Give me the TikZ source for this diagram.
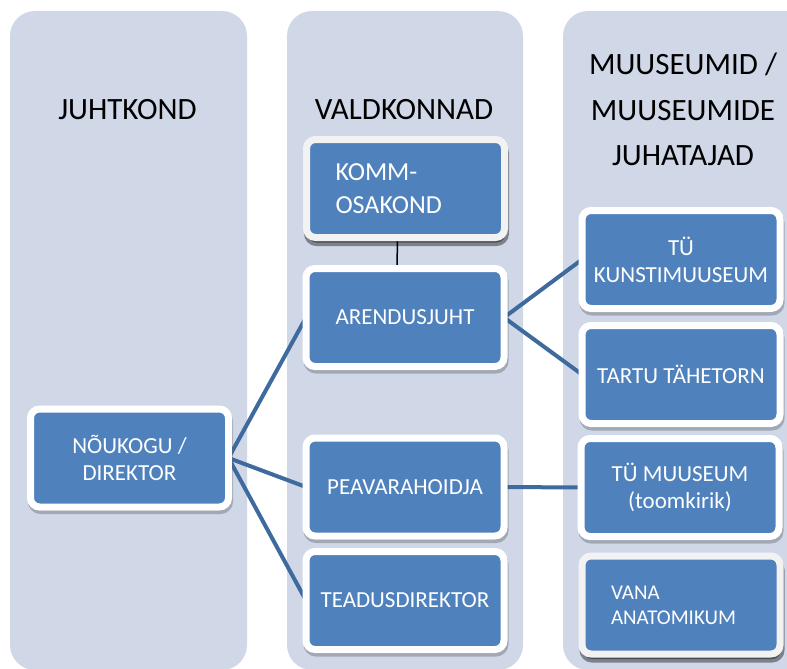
\documentclass[tikz,border=0pt]{standalone}
\usepackage{fontspec}
\setmainfont{Carlito}
\usetikzlibrary{shadows}
\definecolor{lane}{HTML}{D0D8E8}
\definecolor{boxblue}{HTML}{4F81BD}
\definecolor{conn}{HTML}{3F6A9E}
\definecolor{softborder}{HTML}{F2F2F2}
\pgfdeclarelayer{lanes}
\pgfdeclarelayer{links}
\pgfsetlayers{lanes,links,main}
\tikzset{
  basebox/.style={line width=7pt, fill=boxblue, rounded corners=9pt,
    minimum width=198pt, minimum height=98pt, text=white, align=center,
    font=\fontsize{23}{27}\selectfont, outer sep=0pt, inner sep=0pt},
  orgbox/.style={basebox, draw=white,
    drop shadow={shadow xshift=1pt, shadow yshift=-3.5pt, fill=black, draw=black, line width=7pt, opacity=0.22}},
  softbox/.style={basebox, draw=softborder,
    drop shadow={shadow xshift=1pt, shadow yshift=-5pt, fill=black, draw=black, line width=7pt, opacity=0.4}},
  link/.style={draw=conn, line width=4pt},
  header/.style={font=\fontsize{31}{45.5}\selectfont, align=center, text=black},
  lanebg/.style={fill=lane, rounded corners=25pt},
}
\begin{document}
\begin{tikzpicture}[x=1pt,y=-1pt]
\useasboundingbox (0,0) rectangle (787,669);
\clip (0,0) rectangle (787,669);
\begin{pgfonlayer}{lanes}
  \fill[white] (0,0) rectangle (787,669);
  \fill[lanebg] (10,11) rectangle (247,670);
  \fill[lanebg] (287,11) rectangle (523,670);
  \fill[lanebg] (563,11) rectangle (815,670);
\end{pgfonlayer}

\node[header] (h1) at (127.5,110) {JUHTKOND};
\node[header] (h2) at (404,110) {VALDKONNAD};
\node[header] (h3) at (683,109.5) {MUUSEUMID /\\MUUSEUMIDE\\JUHATAJAD};

\node[orgbox] (nou) at (129.5,458) {NÕUKOGU /\\DIREKTOR};
\node[softbox, text width=140pt, align=left, font=\fontsize{26}{33}\selectfont] (komm) at (405.5,188.5) {KOMM-\\OSAKOND};
\node[orgbox] (arend) at (405,317.5) {ARENDUSJUHT};
\node[orgbox] (peav) at (405,487) {PEAVARAHOIDJA};
\node[orgbox] (teadus) at (405,600.5) {TEADUSDIREKTOR};
\node[orgbox] (kunst) at (681,259.5) {TÜ\\KUNSTIMUUSEUM};
\node[orgbox] (taht) at (681,374.5) {TARTU TÄHETORN};
\node[orgbox] (tymuus) at (680,487.5) {TÜ MUUSEUM\\(toomkirik)};
\node[softbox, text width=140pt, align=left, font=\fontsize{21}{25}\selectfont] (vana) at (681,605) {VANA\\ANATOMIKUM};

\begin{pgfonlayer}{links}
  \draw[link] (nou.east) -- (arend.west);
  \draw[link] (nou.east) -- (peav.west);
  \draw[link] (nou.east) -- (teadus.west);
  \draw[link] (arend.east) -- (kunst.west);
  \draw[link] (arend.east) -- (taht.west);
  \draw[link] (peav.east) -- (tymuus.west);
  \draw[black, line width=1.5pt] ([xshift=-8pt]komm.south) -- ([xshift=-8pt]arend.north);
\end{pgfonlayer}
\end{tikzpicture}
\end{document}
